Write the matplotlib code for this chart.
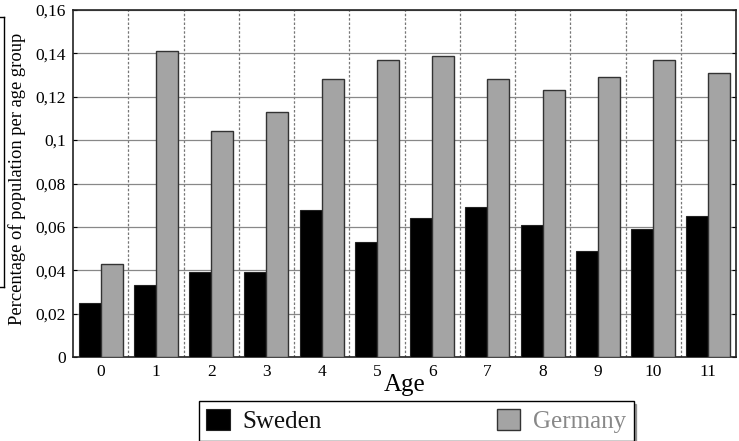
import matplotlib
matplotlib.use("Agg")
import matplotlib.pyplot as plt
import numpy as np
from matplotlib.ticker import FuncFormatter
from matplotlib.lines import Line2D

ages = list(range(12))
sweden = [0.025, 0.033, 0.039, 0.039, 0.068, 0.053, 0.064, 0.069, 0.061, 0.049, 0.059, 0.065]
germany = [0.043, 0.141, 0.104, 0.113, 0.128, 0.137, 0.139, 0.128, 0.123, 0.129, 0.137, 0.131]
yticks = [0, 0.02, 0.04, 0.06, 0.08, 0.1, 0.12, 0.14, 0.16]

plt.rcParams['font.family'] = ['Liberation Serif', 'DejaVu Serif']

fig = plt.figure(figsize=(7.39, 4.41), dpi=100)
ax = fig.add_axes([73/739, 1-357/441, (736-73)/739, (357-10)/441])

x = np.arange(len(ages))
w = 0.4
ax.bar(x - w/2, sweden, width=w, color='black', edgecolor='#222222', linewidth=0.8, label='Sweden', zorder=3)
ax.bar(x + w/2, germany, width=w, color='#a4a4a4', edgecolor='#333333', linewidth=1.0, label='Germany', zorder=3)

ax.set_xlim(-0.5, len(ages) - 0.5)
ax.set_ylim(0, 0.16)
ax.set_yticks(yticks)
ax.yaxis.set_major_formatter(FuncFormatter(lambda v, p: ('%g' % v).replace('.', ',')))
ax.set_xticks(x)
ax.set_xticklabels([str(a) for a in ages], fontsize=12.5)
ax.tick_params(axis='x', length=0, pad=5)
ax.tick_params(axis='y', labelsize=12.5, length=3, direction='in', right=True, pad=5)
for a in x[:-1]:
    ax.axvline(a + 0.5, color='#777777', linestyle=(0, (2, 1.5)), linewidth=0.9, zorder=1)
ax.yaxis.grid(True, color='#888888', linewidth=0.9, zorder=1)
for s in ax.spines.values():
    s.set_color('#222222')
    s.set_linewidth(1.2)

ax.set_ylabel('Percentage of population per age group', fontsize=13.3)
ax.yaxis.set_label_coords((26-73)/663, (357-179)/347)
ax.set_xlabel('Age', fontsize=18, labelpad=-4)

leg = fig.legend(loc='center', bbox_to_anchor=(416/739, 1-421/441), ncol=2,
                 fontsize=18, columnspacing=7.0, handlelength=0.95, handleheight=0.95,
                 handletextpad=0.5, fancybox=False, edgecolor='black', shadow=True,
                 borderpad=0.3, borderaxespad=0)
leg.get_frame().set_linewidth(1.0)
leg.get_texts()[0].set_color('#111111')
leg.get_texts()[1].set_color('#888888')

# left bracket
fig.add_artist(Line2D([4/739, 4/739], [1-17/441, 1-287/441], color='black', linewidth=1.0))
fig.add_artist(Line2D([0, 4/739], [1-17/441, 1-17/441], color='black', linewidth=1.0))
fig.add_artist(Line2D([0, 4/739], [1-287/441, 1-287/441], color='black', linewidth=1.0))

fig.savefig('out.png', dpi=100)
